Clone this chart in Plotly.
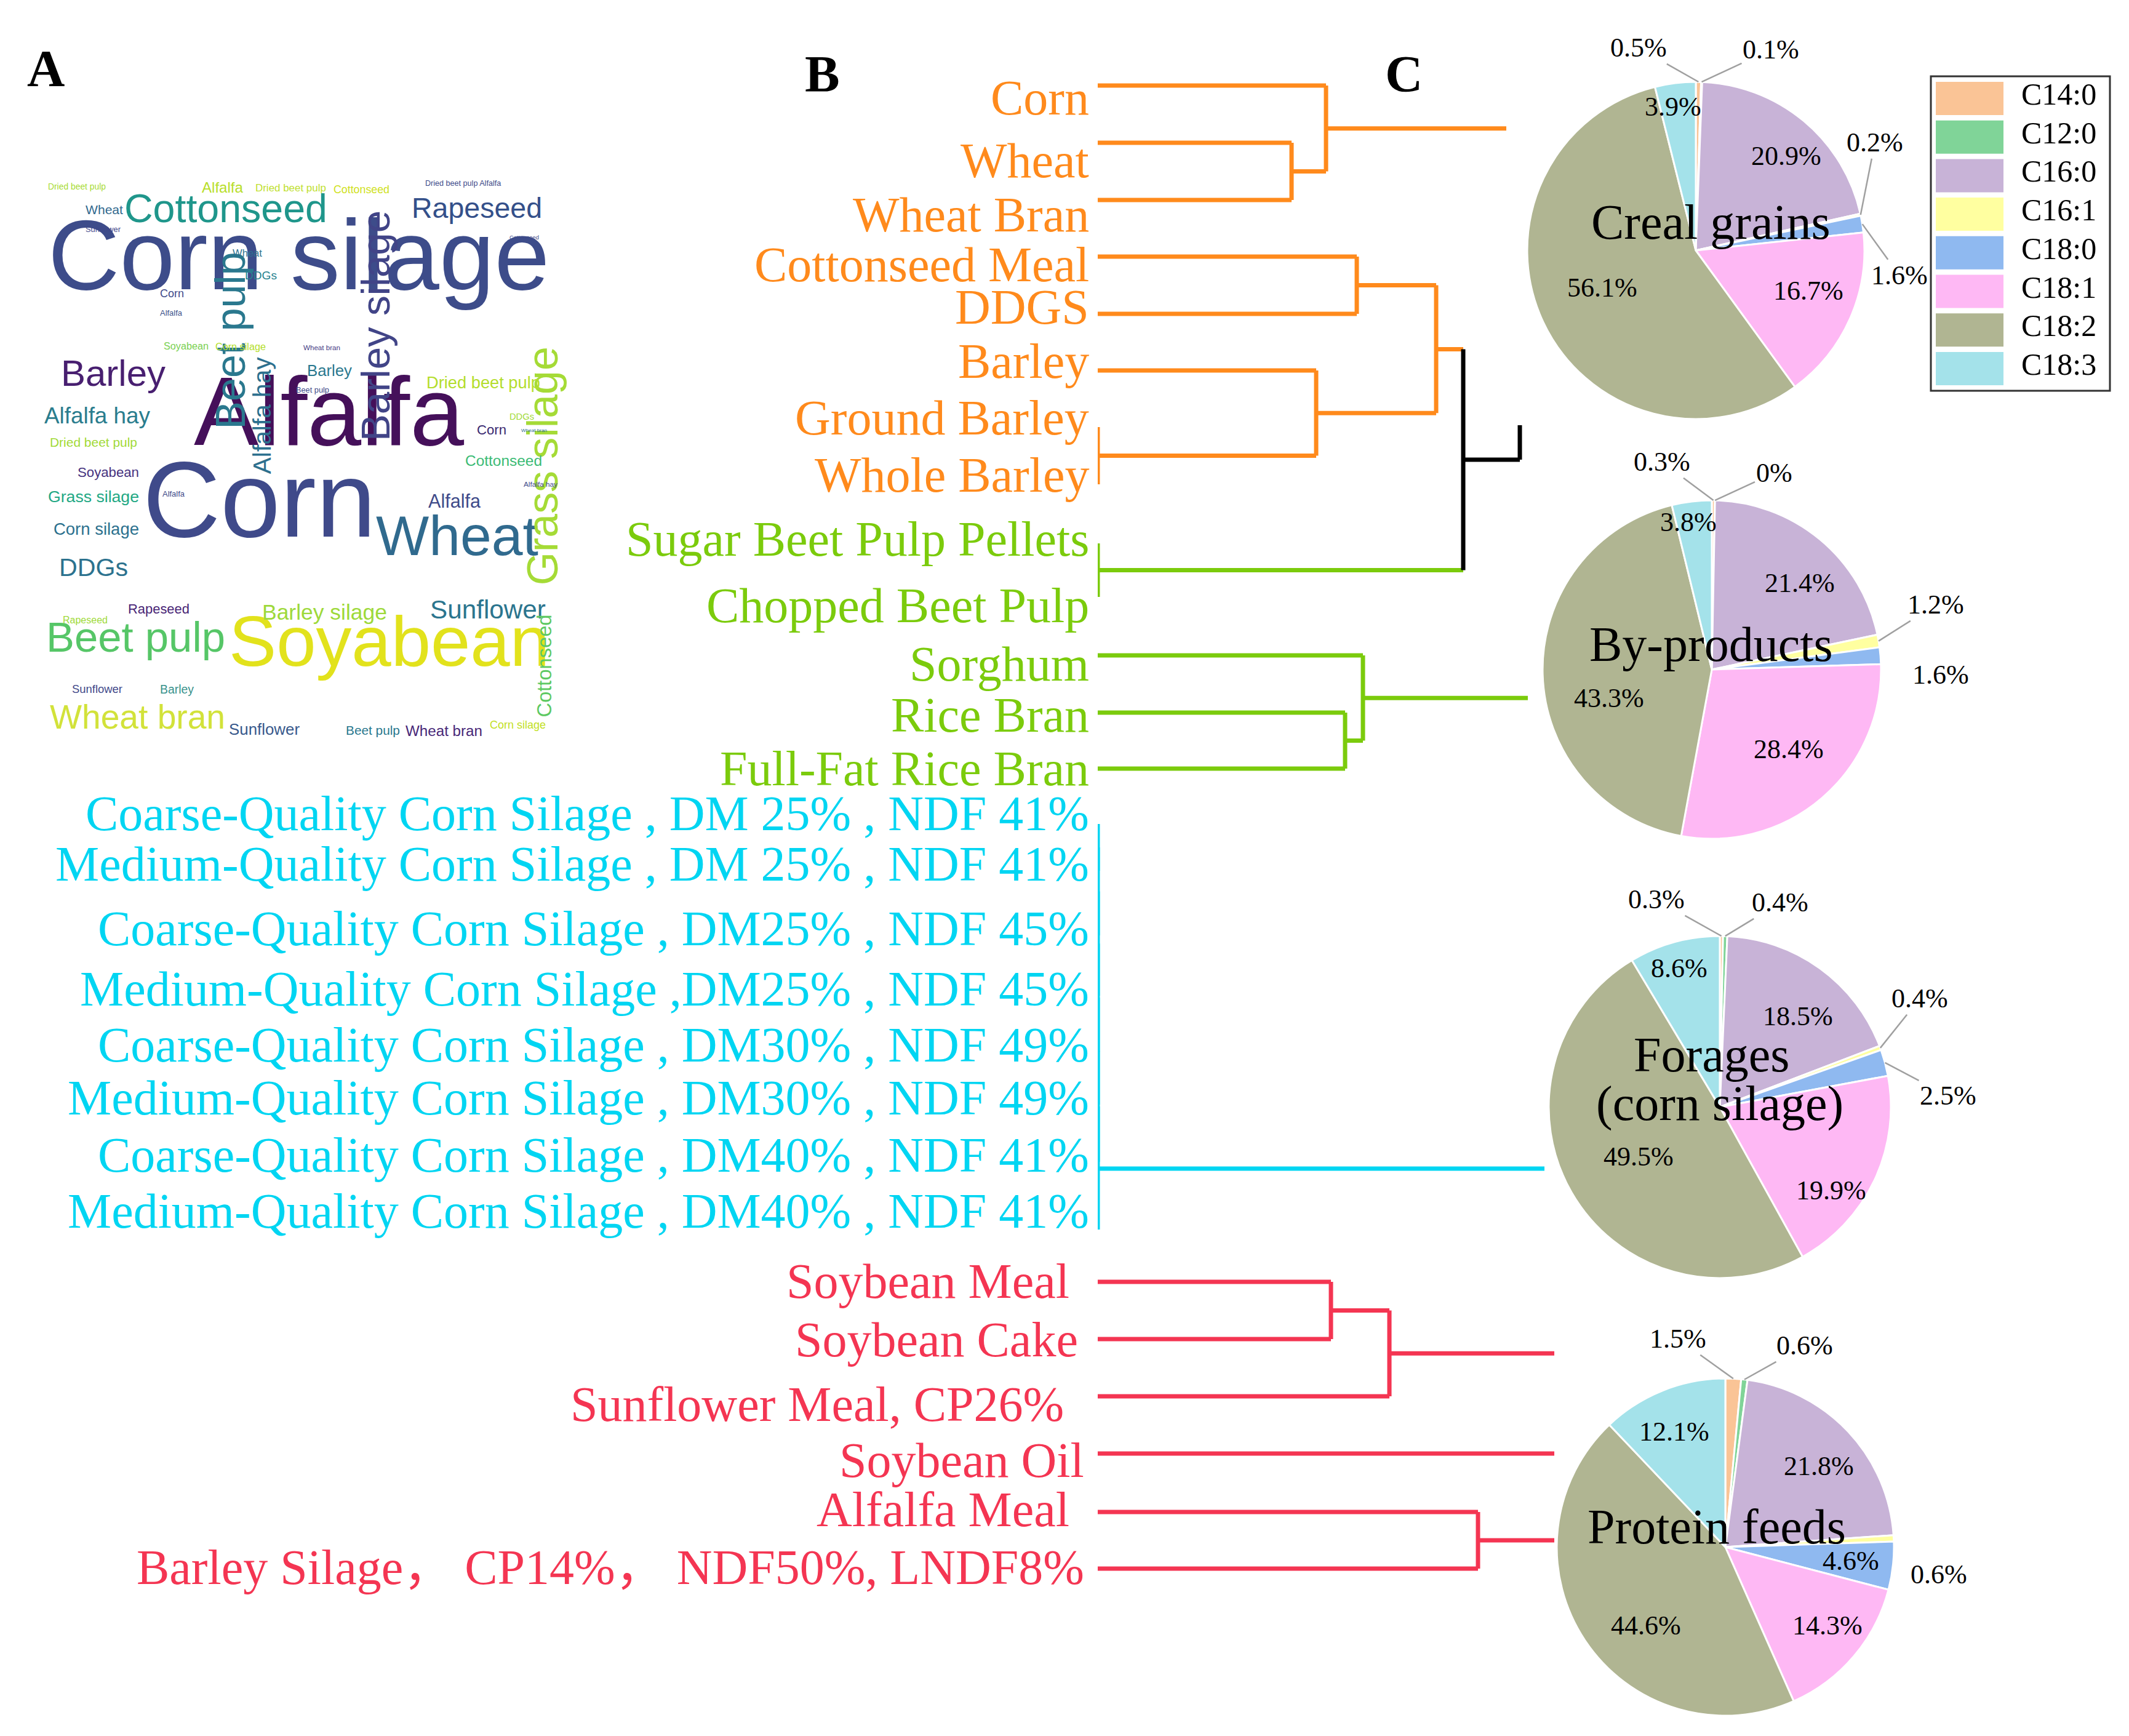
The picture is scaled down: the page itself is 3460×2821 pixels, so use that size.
import math
import plotly.graph_objects as go

W, H = 3460, 2821

# ---------------------------------------------------------------- data
FATTY_ACIDS = ["C14:0", "C12:0", "C16:0", "C16:1", "C18:0", "C18:1", "C18:2", "C18:3"]
GROUP_NAMES = [["Creal grains"], ["By-products"], ["Forages", "(corn silage)"], ["Protein feeds"]]
CEREAL_GRAINS = [0.5, 0.1, 20.9, 0.2, 1.6, 16.7, 56.1, 3.9]
BY_PRODUCTS = [0.3, 0.0, 21.4, 1.2, 1.6, 28.4, 43.3, 3.8]
FORAGES = [0.3, 0.4, 18.5, 0.4, 2.5, 19.9, 49.5, 8.6]
PROTEIN_FEEDS = [1.5, 0.6, 21.8, 0.6, 4.6, 14.3, 44.6, 12.1]
PIE_VALUES = [CEREAL_GRAINS, BY_PRODUCTS, FORAGES, PROTEIN_FEEDS]

ORANGE_FEEDS = ["Corn", "Wheat", "Wheat Bran", "Cottonseed Meal", "DDGS", "Barley",
                "Ground Barley", "Whole Barley"]
GREEN_FEEDS = ["Sugar Beet Pulp Pellets", "Chopped Beet Pulp", "Sorghum", "Rice Bran",
               "Full-Fat Rice Bran"]
CYAN_FEEDS = ["Coarse-Quality Corn Silage , DM 25% , NDF 41%",
              "Medium-Quality Corn Silage , DM 25% , NDF 41%",
              "Coarse-Quality Corn Silage , DM25% , NDF 45%",
              "Medium-Quality Corn Silage ,DM25% , NDF 45%",
              "Coarse-Quality Corn Silage , DM30% , NDF 49%",
              "Medium-Quality Corn Silage , DM30% , NDF 49%",
              "Coarse-Quality Corn Silage , DM40% , NDF 41%",
              "Medium-Quality Corn Silage , DM40% , NDF 41%"]
RED_FEEDS = ["Soybean Meal", "Soybean Cake", "Sunflower Meal, CP26%", "Soybean Oil",
             "Alfalfa Meal", "Barley Silage\uff0c CP14%\uff0c NDF50%, LNDF8%"]

# hierarchical clustering: (node id, child a, child b, linkage distance)
MERGES = [
    ("m_wheat", "Wheat", "Wheat Bran", 3.15),
    ("m_grain", "Corn", "m_wheat", 3.71),
    ("m_cdd", "Cottonseed Meal", "DDGS", 4.21),
    ("m_gwb", "Ground Barley", "Whole Barley", 0.0),
    ("m_barley", "Barley", "m_gwb", 3.55),
    ("m_cb", "m_cdd", "m_barley", 5.50),
    ("m_beet", "Sugar Beet Pulp Pellets", "Chopped Beet Pulp", 0.0),
    ("m_mix", "m_cb", "m_beet", 5.94),
    ("m_rice", "Rice Bran", "Full-Fat Rice Bran", 4.02),
    ("m_sorg", "Sorghum", "m_rice", 4.31),
]
_prev = CYAN_FEEDS[0]
for _k, _leaf in enumerate(CYAN_FEEDS[1:]):
    MERGES.append((f"m_cs{_k}", _prev, _leaf, 0.0))
    _prev = f"m_cs{_k}"
CYAN_ROOT = _prev
MERGES += [
    ("m_soy", "Soybean Meal", "Soybean Cake", 3.79),
    ("m_prot", "m_soy", RED_FEEDS[2], 4.74),
    ("m_alf", "Alfalfa Meal", RED_FEEDS[5], 6.18),
]
# branches leading to the pies: (node, end distance)
TAILS = [("m_grain", 6.64), ("m_mix", 6.86), ("m_sorg", 6.99), (CYAN_ROOT, 7.26),
         ("m_prot", 7.42), ("Soybean Oil", 7.42), ("m_alf", 7.42)]

# ---------------------------------------------------------------- layout / style
FONT_SERIF = "Liberation Serif, Times New Roman, Noto Sans CJK SC, serif"
FONT_CLOUD = "Noto Sans ExtraCondensed, Noto Sans Condensed, Liberation Sans, sans-serif"
ORANGE, GREEN, CYAN, RED = "#FF8A1C", "#7BCB0C", "#00D5F2", "#F43552"
FA_COLORS = ["#FAC496", "#80D498", "#C8B3D7", "#FFFFA0", "#8FB9F0", "#FEB8F4", "#B0B592", "#A4E2EA"]
VSHIFT = 0.14  # cap-centre to text-box-centre offset, in font sizes

LEAF_LINE_Y = [131, 224, 317, 409, 502, 594, 686, 779,
               875, 962, 1057, 1150, 1241,
               1331, 1407, 1512, 1610, 1701, 1787, 1880, 1990,
               2075, 2168, 2261, 2354, 2449, 2541]
LABEL_Y = [162, 264, 352, 433, 502, 590, 682, 775,
           879, 987, 1082, 1165, 1252,
           1325, 1407, 1512, 1610, 1701, 1787, 1880, 1971,
           2085, 2180, 2285, 2376, 2456, 2550]
LABEL_RIGHT = [1764] * 13 + [1764] * 8 + [1732, 1746, 1723, 1756, 1732, 1756]
LABEL_SIZE = 80
NODE_Y_OVERRIDE = {CYAN_ROOT: 1891}
DEND_X0, DEND_PX_PER_UNIT = 1776, 100
LINE_W = 7
BLACK_TICK = 56

PIE_CX = [2748, 2774, 2787, 2796]
PIE_CY = [399, 1080, 1791, 2506]
PIE_R = [274, 275, 278, 274]
PIE_NAME_POS = [[(2772, 364)], [(2773, 1050)], [(2773, 1717), (2787, 1797)], [(2782, 2484)]]
PCT_POS = [
    [(2655, 76), (2870, 79), (2895, 252), (3039, 230), (3079, 446), (2931, 471), (2596, 466), (2711, 172)],
    [(2693, 749), (2875, 767), (2917, 946), (3138, 981), (3146, 1095), (2899, 1216), (2607, 1133), (2736, 847)],
    [(2684, 1460), (2885, 1465), (2914, 1650), (3112, 1621), (3158, 1779), (2968, 1933), (2655, 1878), (2721, 1572)],
    [(2719, 2174), (2925, 2185), (2948, 2381), (3143, 2557), (3000, 2535), (2962, 2640), (2667, 2640), (2713, 2325)],
]
LEADER = [
    [1, 1, 0, 1, 1, 0, 0, 0],
    [1, 1, 0, 1, 0, 0, 0, 0],
    [1, 1, 0, 1, 1, 0, 0, 0],
    [1, 1, 0, 0, 0, 0, 0, 0],
]
PCT_SIZE, NAME_SIZE = 44, 80

LEG_BOX = (3130, 116, 3421, 627)
LEG_Y0, LEG_DY, LEG_SW_H = 152, 62.7, 54
LEG_SW_X = (3138, 3248)
LEG_TX, LEG_SIZE = 3275, 50

# word cloud: (word, centre x, centre y, extent along text, colour, angle)
WORDCLOUD = [
    ("Corn silage", 477, 429, 815, "#3D4C8A", 0),
    ("Alfalfa", 526, 682, 439, "#45105A", 0),
    ("Corn", 413, 828, 379, "#3F4A8A", 0),
    ("Wheat", 735, 875, 264, "#306A8E", 0),
    ("Soyabean", 624, 1050, 521, "#E2E21C", 0),
    ("Cottonseed", 359, 340, 330, "#1F968B", 0),
    ("Rapeseed", 767, 337, 212, "#34508A", 0),
    ("Barley", 176, 607, 170, "#481F70", 0),
    ("Alfalfa hay", 150, 673, 172, "#2A7D8E", 0),
    ("DDGs", 144, 920, 112, "#2C728E", 0),
    ("Beet pulp", 212, 1037, 291, "#56C667", 0),
    ("Wheat bran", 215, 1165, 285, "#D2E23A", 0),
    ("Sunflower", 785, 988, 188, "#2B758E", 0),
    ("Grass silage", 884, 749, 388, "#A5DB36", -90),
    ("Barley silage", 611, 521, 375, "#414487", -90),
    ("Beet pulp", 376, 545, 288, "#2A788E", -90),
    ("Alfalfa hay", 424, 667, 190, "#2D708E", -90),
    ("Barley silage", 519, 992, 203, "#9ED93A", 0),
    ("Sunflower", 421, 1181, 115, "#38598C", 0),
    ("Wheat bran", 713, 1183, 125, "#482878", 0),
    ("Beet pulp", 598, 1181, 88, "#2A788E", 0),
    ("Soyabean", 168, 763, 100, "#46327E", 0),
    ("Grass silage", 144, 803, 148, "#22A884", 0),
    ("Corn silage", 148, 855, 139, "#2C718E", 0),
    ("Rapeseed", 250, 985, 100, "#482475", 0),
    ("Wheat", 161, 335, 61, "#31688E", 0),
    ("DDGs", 416, 442, 52, "#26828E", 0),
    ("Corn", 271, 472, 39, "#3E4A89", 0),
    ("Barley", 527, 598, 73, "#2A788E", 0),
    ("Dried beet pulp", 777, 617, 185, "#B4DD2C", 0),
    ("Corn", 791, 694, 48, "#39286F", 0),
    ("Cottonseed", 810, 744, 125, "#3BBB75", 0),
    ("Alfalfa", 730, 810, 85, "#3E4A89", 0),
    ("Dried beet pulp", 144, 713, 142, "#A2DA37", 0),
    ("Sunflower", 150, 1114, 82, "#3F4889", 0),
    ("Barley", 279, 1115, 55, "#3A928C", 0),
    ("Beet pulp", 500, 627, 54, "#3E4A89", 0),
    ("Soyabean", 294, 556, 73, "#7AD151", 0),
    ("Corn silage", 383, 557, 82, "#B5DE2B", 0),
    ("Wheat bran", 515, 558, 60, "#443A83", 0),
    ("Cottonseed", 881, 1074, 167, "#5EC962", -90),
    ("Rapeseed", 130, 1002, 73, "#A0DA39", 0),
    ("Wheat", 394, 406, 48, "#2C728E", 0),
    ("Alfalfa", 270, 502, 36, "#3B528B", 0),
    ("Sunflower", 160, 366, 57, "#3F4889", 0),
    ("Dried beet pulp", 117, 297, 94, "#A8DB34", 0),
    ("Alfalfa", 354, 300, 67, "#B8DE29", 0),
    ("Dried beet pulp", 464, 300, 115, "#C0E030", 0),
    ("Cottonseed", 579, 302, 91, "#D0E11C", 0),
    ("Dried beet pulp Alfalfa", 744, 292, 124, "#3E4A89", 0),
    ("Cottonseed", 844, 379, 48, "#3E4A89", 0),
    ("Alfalfa hay", 870, 780, 55, "#3E4A89", 0),
    ("DDGs", 840, 671, 40, "#A2DA37", 0),
    ("Corn silage", 833, 1173, 91, "#C2DF23", 0),
    ("Alfalfa", 274, 796, 36, "#3E4A89", 0),
    ("Wheat bran", 860, 693, 42, "#2D708E", 0),
]
NARROW = 1.0
ARIAL_W = {" ": 278, "a": 556, "b": 556, "c": 500, "d": 556, "e": 556, "f": 278, "g": 556,
           "h": 556, "i": 222, "l": 222, "n": 556, "o": 556, "p": 556, "r": 333, "s": 500,
           "t": 278, "u": 556, "w": 722, "y": 500, "A": 667, "B": 667, "C": 722, "D": 722,
           "G": 778, "R": 722, "S": 667, "W": 944}


def text_em(s):
    return sum(ARIAL_W.get(ch, 556) for ch in s) / 1000.0


# ---------------------------------------------------------------- figure
fig = go.Figure()
fig.add_trace(go.Scatter(x=[], y=[], xaxis="x", yaxis="y", showlegend=False))

# dendrogram
groups = [(ORANGE_FEEDS, ORANGE), (GREEN_FEEDS, GREEN), (CYAN_FEEDS, CYAN), (RED_FEEDS, RED)]
leaves, leaf_cols = [], []
for names, col in groups:
    leaves += names
    leaf_cols += [col] * len(names)
node_x = {n: 0.0 for n in leaves}
node_y = dict(zip(leaves, LEAF_LINE_Y))
node_c = dict(zip(leaves, leaf_cols))
segs = {}


def add_seg(col, x0, y0, x1, y1):
    segs.setdefault(col, []).append((x0, y0, x1, y1))


for nid, a, b, h in MERGES:
    col = node_c[a] if node_c[a] == node_c[b] else "black"
    for c in (a, b):
        add_seg(node_c[c], node_x[c], node_y[c], h, node_y[c])
    add_seg(col, h, node_y[a], h, node_y[b])
    node_x[nid] = h
    node_y[nid] = NODE_Y_OVERRIDE.get(nid, (node_y[a] + node_y[b]) / 2.0)
    node_c[nid] = col
for nid, end in TAILS:
    add_seg(node_c[nid], node_x[nid], node_y[nid], end, node_y[nid])
    if node_c[nid] == "black":
        add_seg("black", end, node_y[nid], end, node_y[nid] - BLACK_TICK)

for col in [ORANGE, GREEN, CYAN, RED, "black"]:
    xs, ys = [], []
    for x0, y0, x1, y1 in segs.get(col, []):
        xs += [x0, x1, None]
        ys += [y0, y1, None]
    fig.add_trace(go.Scatter(x=xs, y=ys, mode="lines", xaxis="x2", yaxis="y",
                             line=dict(color=col, width=LINE_W), showlegend=False,
                             hoverinfo="skip"))

annotations = []
for name, col, ly, lx in zip(leaves, leaf_cols, LABEL_Y, LABEL_RIGHT):
    annotations.append(dict(x=lx, y=ly - VSHIFT * LABEL_SIZE, xref="x", yref="y", text=name,
                            showarrow=False, xanchor="right", yanchor="middle",
                            font=dict(family=FONT_SERIF, size=LABEL_SIZE, color=col)))

# pies
for p, vals in enumerate(PIE_VALUES):
    cx, cy, r = PIE_CX[p], PIE_CY[p], PIE_R[p]
    fig.add_trace(go.Pie(
        values=vals, labels=FATTY_ACIDS, sort=False, direction="clockwise", rotation=0,
        marker=dict(colors=FA_COLORS, line=dict(color="white", width=3)),
        textinfo="none", hoverinfo="label+value", showlegend=False,
        domain=dict(x=[(cx - r) / W, (cx + r) / W], y=[1 - (cy + r) / H, 1 - (cy - r) / H]),
    ))
    total = sum(vals)
    cum = 0.0
    for i, v in enumerate(vals):
        mid = 2 * math.pi * (cum + v / 2.0) / total
        cum += v
        ex, ey = cx + r * math.sin(mid), cy - r * math.cos(mid)
        tx, ty = PCT_POS[p][i]
        ty -= VSHIFT * PCT_SIZE
        ann = dict(text=f"{v:g}%", xref="x", yref="y",
                   font=dict(family=FONT_SERIF, size=PCT_SIZE, color="black"))
        if LEADER[p][i]:
            ann.update(x=ex, y=ey, ax=tx, ay=ty, axref="x", ayref="y", showarrow=True,
                       arrowhead=0, arrowwidth=2.5, arrowcolor="#A0A0A0", standoff=0)
        else:
            ann.update(x=tx, y=ty, showarrow=False)
        annotations.append(ann)
    for line, (nx, ny) in zip(GROUP_NAMES[p], PIE_NAME_POS[p]):
        annotations.append(dict(x=nx, y=ny - VSHIFT * NAME_SIZE, xref="x", yref="y", text=line,
                                showarrow=False,
                                font=dict(family=FONT_SERIF, size=NAME_SIZE, color="black")))

# legend
shapes = []
for k, (fa, col) in enumerate(zip(FATTY_ACIDS, FA_COLORS)):
    yc = LEG_Y0 + k * LEG_DY
    shapes.append(dict(type="rect", xref="x", yref="y", x0=LEG_SW_X[0], x1=LEG_SW_X[1],
                       y0=yc - LEG_SW_H / 2, y1=yc + LEG_SW_H / 2, fillcolor=col,
                       line=dict(width=0), layer="above"))
    annotations.append(dict(x=LEG_TX, y=yc - VSHIFT * LEG_SIZE, xref="x", yref="y", text=fa,
                            showarrow=False, xanchor="left", yanchor="middle",
                            font=dict(family=FONT_SERIF, size=LEG_SIZE, color="black")))
shapes.append(dict(type="rect", xref="x", yref="y", x0=LEG_BOX[0], y0=LEG_BOX[1], x1=LEG_BOX[2],
                   y1=LEG_BOX[3], line=dict(color="#333333", width=3),
                   fillcolor="rgba(0,0,0,0)", layer="above"))

# panel letters
for letter, lx, ly in [("A", 66, 115), ("B", 1328, 124), ("C", 2273, 124)]:
    annotations.append(dict(x=lx, y=ly - VSHIFT * 85, xref="x", yref="y", text=f"<b>{letter}</b>",
                            showarrow=False, font=dict(family=FONT_SERIF, size=85, color="black")))

# word cloud
for word, wx, wy, ext, col, ang in WORDCLOUD:
    size = ext / (text_em(word) * NARROW)
    if ang == 0:
        wy -= VSHIFT * size
    else:
        wx -= VSHIFT * size
    annotations.append(dict(x=wx, y=wy, xref="x", yref="y", text=word, showarrow=False,
                            textangle=ang, xanchor="center", yanchor="middle",
                            font=dict(family=FONT_CLOUD, size=size, color=col)))

fig.update_layout(
    width=W, height=H, autosize=False,
    margin=dict(l=0, r=0, t=0, b=0, pad=0),
    paper_bgcolor="white", plot_bgcolor="rgba(0,0,0,0)",
    xaxis=dict(range=[0, W], domain=[0, 1], visible=False, fixedrange=True),
    yaxis=dict(range=[H, 0], domain=[0, 1], visible=False, fixedrange=True),
    xaxis2=dict(range=[0, (W - DEND_X0) / DEND_PX_PER_UNIT], domain=[DEND_X0 / W, 1],
                anchor="y", visible=False, fixedrange=True),
    annotations=annotations, shapes=shapes, showlegend=False,
)
fig.write_html("out.html")
